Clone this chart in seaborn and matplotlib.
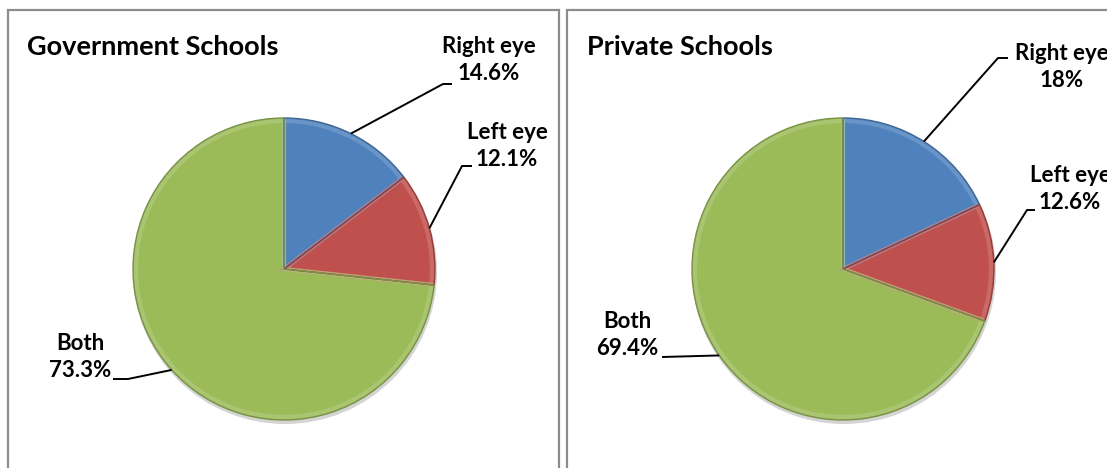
import numpy as np
import matplotlib
matplotlib.use("Agg")
import matplotlib.pyplot as plt
import matplotlib.colors as mcolors
from matplotlib.patches import Rectangle
import seaborn as sns

# ---------------- data ----------------
categories = ["Right eye", "Left eye", "Both"]
gov_values = [14.6, 12.1, 73.3]
pvt_values = [18.0, 12.6, 69.4]
gov_labels = ["14.6%", "12.1%", "73.3%"]
pvt_labels = ["18%", "12.6%", "69.4%"]
titles = ["Government Schools", "Private Schools"]
colors = ["#4F81BD", "#C0504D", "#9BBB59"]

sns.set_theme(style="white")
plt.rcParams["font.family"] = ["Lato", "DejaVu Sans"]

W, H = 1107, 468
fig = plt.figure(figsize=(W / 100, H / 100), dpi=100)
ax = fig.add_axes([0, 0, 1, 1])
ax.set_xlim(0, W)
ax.set_ylim(0, H)
ax.set_aspect("equal")
ax.axis("off")


def Y(py):
    return H - py


# panel borders
for x0, x1 in [(8, 559), (567, 1115)]:
    ax.add_patch(Rectangle((x0, Y(480)), x1 - x0, 470, fill=False,
                           edgecolor="#8c8c8c", linewidth=1.6, zorder=0))

# layout (pixel coordinates of the reference)
panels = [
    dict(values=gov_values, labels=gov_labels, title=titles[0],
         center=(284, 269), radius=151, title_xy=(27, 47),
         label_xy=[(489, 60), (507, 146), (80, 357)],
         elbow=[[(452, 84), (443, 84)], [(472, 166), (462, 166)],
                [(113, 379), (128, 379)]]),
    dict(values=pvt_values, labels=pvt_labels, title=titles[1],
         center=(843, 269), radius=151, title_xy=(587, 47),
         label_xy=[(1062, 67), (1070, 189), (627, 335)],
         elbow=[[(1008, 58), (998, 58)], [(1035, 210), (1027, 210)],
                [(662, 357), (662, 357)]]),
]


def lighten(c, f):
    r, g, b = mcolors.to_rgb(c)
    return (r + (1 - r) * f, g + (1 - g) * f, b + (1 - b) * f)


def darken(c, f):
    r, g, b = mcolors.to_rgb(c)
    return (r * (1 - f), g * (1 - f), b * (1 - f))


for p in panels:
    cx, cy = p["center"]
    R = p["radius"]
    vals = np.array(p["values"])
    # soft shadow
    ax.add_patch(plt.Circle((cx + 1, Y(cy) - 3), R + 1, color="#d4d4d4",
                            zorder=1, lw=0))
    wedges, _ = ax.pie(vals, colors=colors, startangle=90, counterclock=False,
                       center=(cx, Y(cy)), radius=R, frame=True,
                       wedgeprops=dict(linewidth=0))
    for w in wedges:
        w.set_zorder(2)
    # bevel effect: darker outer rim and light inner rim per wedge
    w2, _ = ax.pie(vals, colors=["none"] * 3, startangle=90, counterclock=False,
                   center=(cx, Y(cy)), radius=R, frame=True)
    for w, c in zip(w2, colors):
        w.set_facecolor("none")
        w.set_edgecolor(darken(c, 0.22))
        w.set_linewidth(1.0)
        w.set_zorder(4)
    w3, _ = ax.pie(vals, colors=["none"] * 3, startangle=90, counterclock=False,
                   center=(cx, Y(cy)), radius=R - 3, frame=True)
    for w, c in zip(w3, colors):
        w.set_facecolor("none")
        w.set_edgecolor(lighten(c, 0.25))
        w.set_linewidth(3.0)
        w.set_alpha(0.6)
        w.set_zorder(3)

    # labels + leader lines
    cum = np.concatenate([[0], np.cumsum(vals)]) / vals.sum()
    for i, cat in enumerate(categories):
        mid = np.deg2rad(90 - 360 * (cum[i] + cum[i + 1]) / 2)
        ex, ey = cx + R * np.cos(mid), cy - R * np.sin(mid)
        (tx, ty), (bx, by) = p["elbow"][i]
        ax.plot([tx, bx, ex], [Y(ty), Y(by), Y(ey)], color="black", lw=1.4,
                zorder=5, solid_capstyle="butt")
        lx, ly = p["label_xy"][i]
        ax.text(lx, Y(ly), f"{cat}\n{p['labels'][i]}", ha="center",
                va="center", fontsize=16, fontweight="bold", color="black",
                linespacing=1.3, zorder=6)

    tx, ty = p["title_xy"]
    ax.text(tx, Y(ty), p["title"], ha="left", va="center", fontsize=19.5,
            fontweight="bold", color="black")

ax.set_xlim(0, W)
ax.set_ylim(0, H)
ax.axis("off")
fig.savefig("out.png", dpi=100)
